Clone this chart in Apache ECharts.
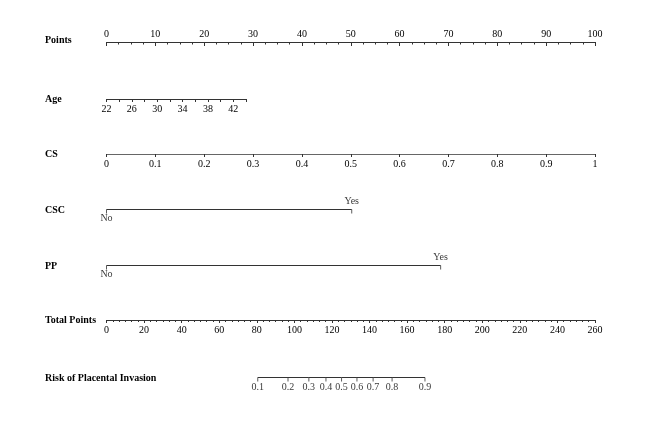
<!DOCTYPE html>
<html>
<head>
<meta charset="utf-8">
<script src="https://cdn.jsdelivr.net/npm/echarts@6/dist/echarts.min.js"></script>
<style>
html, body { margin: 0; background: #fff; }
#main { width: 654px; height: 428px; }
</style>
</head>
<body>
<div id="main"></div>
<script>
// nomogram data
var rowNames = ['Points', 'Age', 'CS', 'CSC', 'PP', 'Total Points', 'Risk of Placental Invasion'];
var pointsRange = [0, 100];
var ageRange = [22, 44];
var ageLabels = [22, 26, 30, 34, 38, 42];
var csRange = [0, 1];
var cscLabels = ['No', 'Yes'];
var cscPoints = [0, 50.2];
var ppLabels = ['No', 'Yes'];
var ppPoints = [0, 68.4];
var totalRange = [0, 260];
var riskLabels = ['0.1', '0.2', '0.3', '0.4', '0.5', '0.6', '0.7', '0.8', '0.9'];
var riskTotals = [80.5, 96.6, 107.7, 116.8, 125.1, 133.3, 141.9, 152.0, 169.5];

var myChart = echarts.init(document.getElementById('main'));

var FONT = '"Liberation Serif", "DejaVu Serif", serif';
var INK = '#333';
var left = 106.5, right = 59;
// y of each axis line; .5 keeps the hand drawn rows crisp
var rowY = [42, 99, 154, 209.5, 265.5, 320, 377.5];
var ageW = 139.5;

var labelStyle = { fontFamily: FONT, fontSize: 10, color: '#000' };

function grid(i, w) {
    var g = { left: left, top: rowY[i], height: 0 };
    if (w) g.width = w; else g.right = right;
    return g;
}
function hiddenY(i) {
    return { gridIndex: i, type: 'value', show: false, min: -1, max: 1 };
}
function hiddenX(i, range) {
    return { gridIndex: i, type: 'value', show: false, min: range[0], max: range[1] };
}

// line + ticks + text labels for the yes/no and risk rows
function markRow(i, xs, labels, posFn, distFn) {
    var pts = xs.map(function (x) { return [x, 0]; });
    return [
        {
            type: 'line', xAxisIndex: i, yAxisIndex: i, silent: true,
            data: pts, symbol: 'none', lineStyle: { color: INK, width: 1 }
        },
        {
            type: 'scatter', xAxisIndex: i, yAxisIndex: i, silent: true,
            data: pts, symbol: 'rect', symbolSize: [1, 4], symbolOffset: [0, 2],
            itemStyle: { color: INK }
        },
        {
            type: 'scatter', xAxisIndex: i, yAxisIndex: i, silent: true,
            symbolSize: 0,
            data: xs.map(function (x, k) {
                return {
                    value: [x, 0],
                    label: { show: true, position: posFn(k), distance: distFn(k), formatter: labels[k] }
                };
            }),
            label: labelStyle
        }
    ];
}

function yesNoPos(k) { return k === 0 ? 'bottom' : 'top'; }
function yesNoDist(k) { return k === 0 ? 4 : 3; }

var option = {
    animation: false,
    backgroundColor: '#fff',
    grid: [grid(0), grid(1, ageW), grid(2), grid(3), grid(4), grid(5), grid(6)],
    xAxis: [
        {
            gridIndex: 0, type: 'value', position: 'top',
            min: pointsRange[0], max: pointsRange[1], interval: 10,
            axisLine: { lineStyle: { color: INK, width: 1 } },
            axisTick: { inside: true, length: 4, lineStyle: { color: INK } },
            minorTick: { show: true, splitNumber: 4, length: 2.5, lineStyle: { color: INK } },
            axisLabel: Object.assign({ margin: 3 }, labelStyle),
            splitLine: { show: false }
        },
        {
            gridIndex: 1, type: 'value', position: 'bottom',
            min: ageRange[0], max: ageRange[1], interval: 2,
            axisLine: { lineStyle: { color: INK, width: 1 } },
            axisTick: { length: 3, lineStyle: { color: INK } },
            axisLabel: Object.assign({
                margin: 5,
                formatter: function (v) { return ageLabels.indexOf(Math.round(v)) >= 0 ? String(Math.round(v)) : ''; }
            }, labelStyle),
            splitLine: { show: false }
        },
        {
            gridIndex: 2, type: 'value', position: 'bottom',
            min: csRange[0], max: csRange[1], interval: 0.1,
            axisLine: { lineStyle: { color: '#666', width: 1 } },
            axisTick: { length: 3, lineStyle: { color: INK } },
            axisLabel: Object.assign({
                margin: 5,
                formatter: function (v) { return String(+v.toFixed(1)); }
            }, labelStyle),
            splitLine: { show: false }
        },
        hiddenX(3, pointsRange),
        hiddenX(4, pointsRange),
        {
            gridIndex: 5, type: 'value', position: 'bottom',
            min: totalRange[0], max: totalRange[1], interval: 20,
            axisLine: { lineStyle: { color: INK, width: 1 } },
            axisTick: { length: 3, lineStyle: { color: INK } },
            minorTick: { show: true, splitNumber: 6, length: 2, lineStyle: { color: INK } },
            axisLabel: Object.assign({ margin: 5 }, labelStyle),
            splitLine: { show: false }
        },
        hiddenX(6, totalRange)
    ],
    yAxis: [0, 1, 2, 3, 4, 5, 6].map(hiddenY),
    graphic: rowNames.map(function (name, i) {
        return {
            type: 'text', left: 45, top: Math.round(rowY[i]) - (i === 0 ? 7 : 5),
            style: { text: name, font: 'bold 10px ' + FONT, fill: '#000' }
        };
    }),
    series: []
        .concat(markRow(3, cscPoints, cscLabels, yesNoPos, yesNoDist))
        .concat(markRow(4, ppPoints, ppLabels, yesNoPos, yesNoDist))
        .concat(markRow(6, riskTotals, riskLabels, function () { return 'bottom'; }, function () { return 5; }))
};

myChart.setOption(option);
</script>
</body>
</html>
